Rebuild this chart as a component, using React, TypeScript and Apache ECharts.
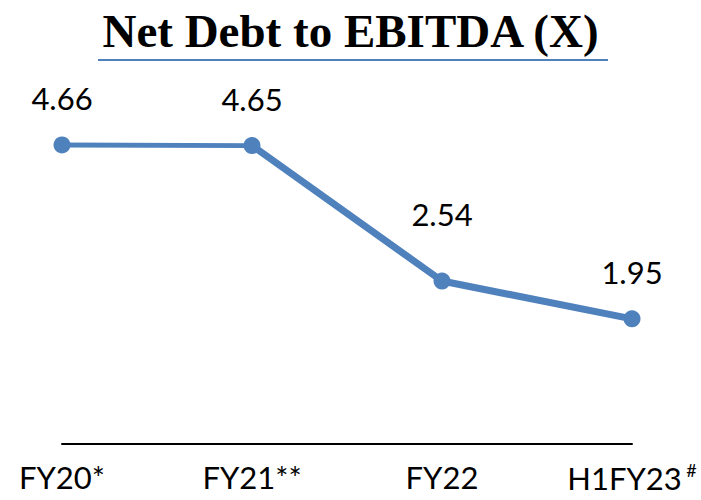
import React, { useEffect, useRef } from "react";
import * as echarts from "echarts";

const categories = ["FY20*", "FY21**", "FY22", "H1FY23"];
const values = [4.66, 4.65, 2.54, 1.95];
const labelOffsets = [0, 0, -20, 0];

export default function App() {
  const ref = useRef<HTMLDivElement>(null);
  useEffect(() => {
    if (!ref.current) return;
    const chart = echarts.init(ref.current, null, { renderer: "svg" });
    const firstSeg = values.map((v, i) => (i <= 1 ? v : null));
    const restSeg = values.map((v, i) => (i >= 1 ? v : null));
    chart.setOption({
      animation: false,
      backgroundColor: "#ffffff",
      title: {
        text: "Net Debt to EBITDA (X)",
        left: "center",
        top: 2,
        textStyle: {
          fontFamily: "Liberation Serif",
          fontWeight: "bold",
          fontSize: 47,
          color: "#000000",
        },
      },
      graphic: [
        {
          type: "line",
          shape: { x1: 98, y1: 60, x2: 608, y2: 60 },
          style: { stroke: "#4f81bd", lineWidth: 2 },
        },
      ],
      grid: { left: 62, right: 69, top: 59, bottom: 56 },
      xAxis: {
        type: "category",
        data: categories,
        boundaryGap: false,
        axisLine: { lineStyle: { color: "#000000", width: 2 } },
        axisTick: { show: false },
        axisLabel: {
          interval: 0,
          margin: 17,
          fontFamily: "Lato",
          fontSize: 31,
          color: "#000000",
          formatter: (v: string) => (v === "H1FY23" ? "{a|H1FY23}{s| #}" : "{a|" + v + "}"),
          rich: {
            a: { fontFamily: "Lato", fontSize: 31, color: "#000000" },
            s: { fontFamily: "Lato", fontSize: 18, color: "#000000", verticalAlign: "top", padding: [0, 0, 16, 0] },
          },
        },
      },
      yAxis: {
        type: "value",
        min: 0,
        max: 6,
        show: false,
        splitLine: { show: false },
      },
      series: [
        {
          type: "line",
          data: firstSeg,
          symbol: "none",
          silent: true,
          lineStyle: { color: "#4f81bd", width: 5 },
          z: 2,
        },
        {
          type: "line",
          data: restSeg,
          symbol: "none",
          silent: true,
          lineStyle: { color: "#4f81bd", width: 7 },
          z: 2,
        },
        {
          type: "line",
          data: values.map((v, i) => ({
            value: v,
            label: { offset: [0, labelOffsets[i]] },
          })),
          symbol: "circle",
          symbolSize: 17,
          itemStyle: { color: "#4f81bd" },
          lineStyle: { width: 0, opacity: 0 },
          z: 3,
          label: {
            show: true,
            position: "top",
            distance: 23,
            fontFamily: "Lato",
            fontSize: 31,
            color: "#000000",
            formatter: (p: any) => p.value.toFixed(2),
          },
        },
      ],
    });
    return () => chart.dispose();
  }, []);
  return (
    <div
      ref={ref}
      style={{ position: "absolute", left: 0, top: 0, width: 701, height: 500 }}
    />
  );
}
